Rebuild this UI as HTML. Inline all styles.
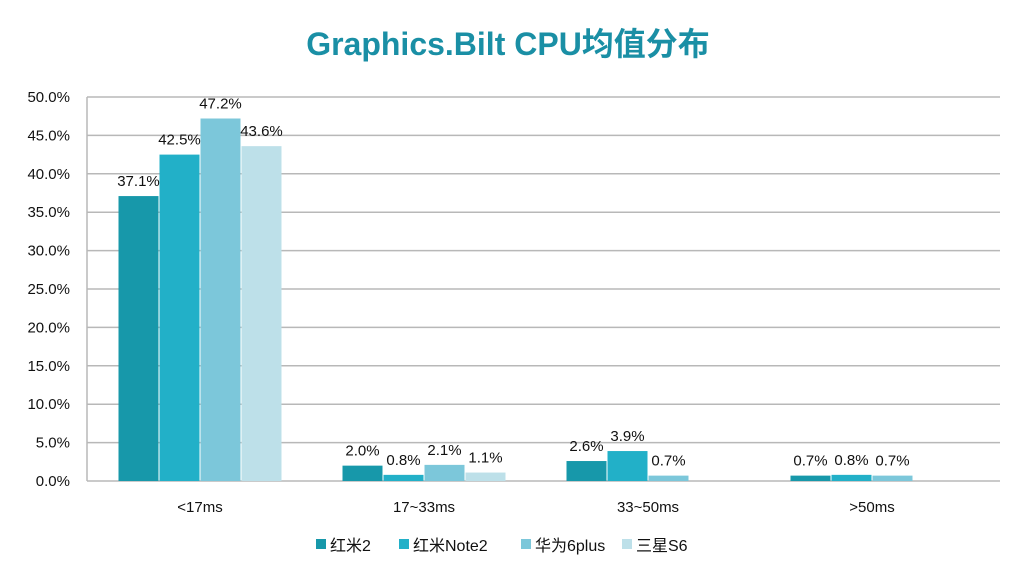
<!DOCTYPE html>
<html><head><meta charset="utf-8"><style>
body{margin:0;background:#fff;width:1021px;height:567px;overflow:hidden;font-family:"Liberation Sans","Noto Sans CJK SC",sans-serif}
</style></head><body>
<svg id="c" width="1021" height="567" font-family="Liberation Sans, Noto Sans CJK SC, sans-serif">
<text x="508" y="55" text-anchor="middle" font-size="32" font-weight="bold" fill="#1a8fa5">Graphics.Bilt CPU均值分布</text>
</svg>
<script>
const categories=["<17ms","17~33ms","33~50ms",">50ms"];
const seriesNames=["红米2","红米Note2","华为6plus","三星S6"];
const s1=[37.1,2.0,2.6,0.7];
const s2=[42.5,0.8,3.9,0.8];
const s3=[47.2,2.1,0.7,0.7];
const s4=[43.6,1.1,null,null];
const yTicks=[0,5,10,15,20,25,30,35,40,45,50];
const colors=["#1798aa","#22b0c8","#7cc7da","#bde0e9"];
const NS="http://www.w3.org/2000/svg",svg=document.getElementById('c');
const L=87,R=1000,T=97,B=481;
const y=v=>B-(v/50)*(B-T);
const cw=224;
const xc=i=>200+cw*i;
function mk(t,a,txt){const e=document.createElementNS(NS,t);for(const k in a)e.setAttribute(k,a[k]);if(txt!=null)e.textContent=txt;svg.appendChild(e);return e;}
yTicks.forEach(v=>{
 const g=mk('line',{x1:L,x2:R,y1:y(v),y2:y(v),stroke:'#b8b8b8','stroke-width':1.5});
 
 
 const t=mk('text',{x:70,y:y(v)+5,'text-anchor':'end','font-size':15,fill:'#111'},v.toFixed(1)+'%');
 
 
});
const ax=mk('line',{x1:L,x2:L,y1:T,y2:B,stroke:'#b8b8b8','stroke-width':1.5});


const series=[s1,s2,s3,s4];
const bw=40,gap=1,gw=4*bw+3*gap;
categories.forEach((c,i)=>{
 const cx=xc(i);
 const t=mk('text',{x:cx,y:512,'text-anchor':'middle','font-size':15,fill:'#111'},c);
 
 
 series.forEach((s,j)=>{
  const v=s[i]; if(v==null) return;
  const bx=cx-gw/2+j*(bw+gap);
  const r=mk('rect',{x:bx,y:y(v),width:bw,height:B-y(v),fill:colors[j]});
  
  
  const l=mk('text',{x:bx+bw/2,y:y(v)-10,'text-anchor':'middle','font-size':15,fill:'#111'},v.toFixed(1)+'%');
  
  
 });
});
const lx=[316,399,521,622];
seriesNames.forEach((n,j)=>{
 const r=mk('rect',{x:lx[j],y:539,width:10,height:10,fill:colors[j]});
 
 
 const t=mk('text',{x:lx[j]+14,y:551,'font-size':16,fill:'#111'},n);
 
 
});
</script>
</body></html>
